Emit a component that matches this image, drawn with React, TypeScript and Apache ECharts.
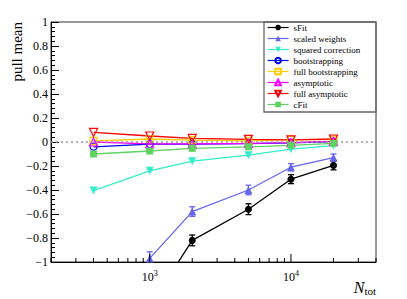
import React, { useEffect, useRef } from "react";
import * as echarts from "echarts";

const FONT = "Liberation Serif";

// N_tot values
const nTot = [400, 1000, 2000, 5000, 10000, 20000];
const nTotFrom1000 = [1000, 2000, 5000, 10000, 20000];

// series values (pull mean)
const sFitMean = [-1.37, -0.82, -0.56, -0.31, -0.195];
const sFitErr = [0.05, 0.045, 0.045, 0.037, 0.037];
const scaledMean = [-0.97, -0.58, -0.4, -0.21, -0.13];
const scaledErr = [0.055, 0.04, 0.04, 0.03, 0.03];
const sqCorrMean = [-0.405, -0.24, -0.16, -0.11, -0.06, -0.03];
const bootMean = [-0.04, -0.017, -0.017, -0.014, -0.008, 0.003];
const fullBootMean = [0.01, 0.025, 0.015, 0.01, 0.02, 0.02];
const asymMean = [0.0, -0.015, -0.015, -0.012, -0.005, 0.005];
const fullAsymMean = [0.08, 0.05, 0.03, 0.022, 0.017, 0.025];
const cFitMean = [-0.1, -0.075, -0.053, -0.04, -0.028, -0.012];

// axis ticks
const xMin = 200;
const xMax = 40000;
const yMin = -1;
const yMax = 1;
const xTickValues = [
  200, 300, 400, 500, 600, 700, 800, 900, 1000,
  2000, 3000, 4000, 5000, 6000, 7000, 8000, 9000, 10000,
  20000, 30000, 40000,
];

const legendNames = [
  "sFit",
  "scaled weights",
  "squared correction",
  "bootstrapping",
  "full bootstrapping",
  "asymptotic",
  "full asymptotic",
  "cFit",
];

function pairs(xs: number[], ys: number[]) {
  return xs.map((x, i) => [x, ys[i]]);
}

function lineSeries(
  name: string,
  xs: number[],
  ys: number[],
  color: string,
  symbol: string,
  filled: boolean,
  rotate = 0,
  size = 7
): any {
  return {
    type: "line",
    name,
    data: pairs(xs, ys),
    symbol,
    symbolSize: size,
    symbolRotate: rotate,
    showSymbol: true,
    clip: true,
    lineStyle: { color, width: 1.3 },
    itemStyle: filled
      ? { color, borderColor: color, borderWidth: 0 }
      : { color: "rgba(255,255,255,0)", borderColor: color, borderWidth: 1.2 },
    emphasis: { disabled: true },
    z: 3,
  };
}

function errorSeries(xs: number[], ys: number[], es: number[], color: string): any {
  return {
    type: "custom",
    data: xs.map((x, i) => [x, ys[i], es[i]]),
    clip: true,
    silent: true,
    z: 2,
    renderItem: (params: any, api: any) => {
      const x = api.value(0);
      const y = api.value(1);
      const e = api.value(2);
      const t = api.coord([x, y + e]);
      const b = api.coord([x, y - e]);
      const cw = 3;
      const st = { stroke: color, lineWidth: 1.3 };
      return {
        type: "group",
        children: [
          { type: "line", shape: { x1: t[0], y1: t[1], x2: b[0], y2: b[1] }, style: st },
          { type: "line", shape: { x1: t[0] - cw, y1: t[1], x2: t[0] + cw, y2: t[1] }, style: st },
          { type: "line", shape: { x1: b[0] - cw, y1: b[1], x2: b[0] + cw, y2: b[1] }, style: st },
        ],
      };
    },
  };
}

export default function App() {
  const ref = useRef<HTMLDivElement>(null);
  useEffect(() => {
    if (!ref.current) return;
    document.body.style.margin = "0";
    const chart = echarts.init(ref.current, undefined, { renderer: "svg" });
    const isPow10 = (v: number) => {
      const l = Math.log10(v);
      return Math.abs(l - Math.round(l)) < 1e-6;
    };
    const option: any = {
      animation: false,
      backgroundColor: "#fff",
      grid: {
        left: 51,
        right: 31,
        top: 22,
        bottom: 37,
        show: true,
        borderColor: "#333",
        borderWidth: 1,
        backgroundColor: "transparent",
      },
      xAxis: {
        type: "log",
        logBase: 10,
        min: xMin,
        max: xMax,
        axisLine: { show: true, onZero: false, lineStyle: { color: "#000", width: 1 } },
        axisTick: { show: false },
        splitLine: { show: false },
        minorTick: { show: false },
        axisLabel: {
          margin: 7,
          showMinLabel: false,
          showMaxLabel: false,
          formatter: (v: number) => {
            if (v <= xMin * 1.001 || v >= xMax * 0.999) return "";
            if (!isPow10(v)) return "";
            return "{b|10}{s|" + Math.round(Math.log10(v)) + "}";
          },
          rich: {
            b: { fontFamily: FONT, fontSize: 12, color: "#000" },
            s: { fontFamily: FONT, fontSize: 8, color: "#000", padding: [0, 0, 7, 0] },
          },
        },
      },
      yAxis: {
        type: "value",
        min: yMin,
        max: yMax,
        interval: 0.2,
        axisLine: { show: true, onZero: false, lineStyle: { color: "#000", width: 1 } },
        axisTick: { show: true, inside: true, length: 8, lineStyle: { color: "#000" } },
        minorTick: { show: true, splitNumber: 5, length: 4, lineStyle: { color: "#000" } },
        splitLine: { show: false },
        axisLabel: {
          margin: 3,
          fontFamily: FONT,
          fontSize: 12,
          color: "#000",
          formatter: (v: number) => {
            const r = Math.round(v * 10) / 10;
            if (Math.abs(r) < 1e-9) return "0";
            const s = Math.abs(r) === 1 ? "1" : Math.abs(r).toFixed(1);
            return (r < 0 ? "\u2212" : "") + s;
          },
        },
      },
      legend: {
        data: legendNames,
        orient: "vertical",
        left: 267,
        top: 23,
        padding: 0,
        itemGap: 2,
        itemWidth: 21,
        itemHeight: 7,
        selectedMode: false,
        lineStyle: { width: 1.2 },
        textStyle: { fontFamily: FONT, fontSize: 9, color: "#000", lineHeight: 7 },
      },
      graphic: [
        {
          type: "rect",
          shape: { x: 264, y: 22, width: 112, height: 90 },
          style: { fill: "none", stroke: "#666", lineWidth: 1.3 },
          silent: true,
          z: 0,
        },
        {
          type: "text",
          x: 17,
          y: 22,
          rotation: Math.PI / 2,
          style: {
            text: "pull mean",
            fontFamily: FONT,
            fontSize: 15,
            fill: "#000",
            align: "right",
            verticalAlign: "middle",
          },
        },
        {
          type: "text",
          right: 31,
          top: 279,
          style: {
            text: "{n|N}{t|tot}",
            rich: {
              n: { fontFamily: FONT, fontSize: 16, fontStyle: "italic", fill: "#000", color: "#000" },
              t: { fontFamily: FONT, fontSize: 11, fill: "#000", color: "#000", padding: [7, 0, 0, 0] },
            },
          },
        },
      ],
      series: [
        {
          ...lineSeries("sFit", nTotFrom1000, sFitMean, "#000000", "circle", true, 0, 7),
          markLine: {
            silent: true,
            symbol: "none",
            label: { show: false },
            lineStyle: { color: "#999", type: [2, 3], width: 1.5 },
            data: [{ yAxis: 0 }],
          },
        },
        errorSeries(nTotFrom1000, sFitMean, sFitErr, "#000000"),
        lineSeries("scaled weights", nTotFrom1000, scaledMean, "#6666ee", "triangle", true, 0, 8),
        errorSeries(nTotFrom1000, scaledMean, scaledErr, "#6666ee"),
        lineSeries("squared correction", nTot, sqCorrMean, "#33eecc", "triangle", true, 180, 8),
        lineSeries("bootstrapping", nTot, bootMean, "#0000ff", "circle", false, 0, 7),
        lineSeries("full bootstrapping", nTot, fullBootMean, "#ffcc00", "rect", false, 0, 7),
        lineSeries("asymptotic", nTot, asymMean, "#ff00ff", "triangle", false, 0, 8),
        lineSeries("full asymptotic", nTot, fullAsymMean, "#ff0000", "triangle", false, 180, 8),
        lineSeries("cFit", nTot, cFitMean, "#5fd35f", "rect", true, 0, 7),
        {
          type: "custom",
          silent: true,
          z: 5,
          data: xTickValues.map((v) => [v, yMin]),
          renderItem: (params: any, api: any) => {
            const v = api.value(0);
            const p = api.coord([v, yMin]);
            const len = isPow10(v) ? 8 : 4;
            return {
              type: "line",
              shape: { x1: p[0], y1: p[1], x2: p[0], y2: p[1] - len },
              style: { stroke: "#000", lineWidth: 1 },
            };
          },
        },
      ],
    };
    chart.setOption(option);
    return () => chart.dispose();
  }, []);
  return (
    <div
      ref={ref}
      style={{ width: 407, height: 299, position: "absolute", left: 0, top: 0 }}
    />
  );
}
